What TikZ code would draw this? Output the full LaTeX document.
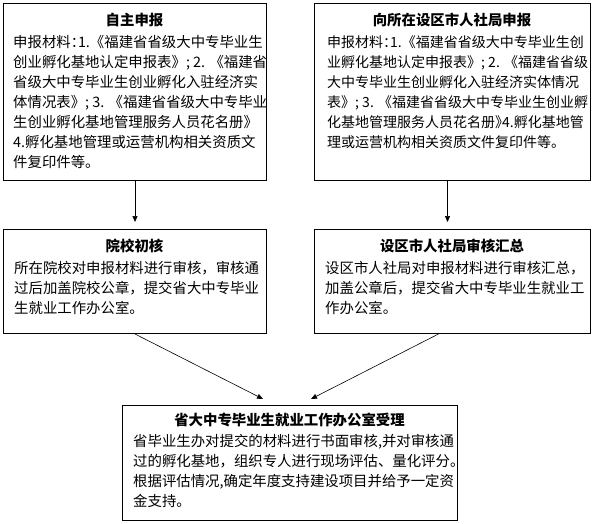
\documentclass[tikz,border=0pt]{standalone}
\usepackage{fontspec}
\setmainfont{Noto Sans CJK SC}
\newfontfamily\cjkh[RawFeature=+halt]{Noto Sans CJK SC}
\newcommand\hw[1]{{\cjkh #1}}
\usetikzlibrary{arrows.meta,calc}
\begin{document}
\begin{tikzpicture}[x=1pt,y=-1pt,
  box/.style={draw, line width=1pt, inner sep=0pt, anchor=north west},
  ttl/.style={font=\fontsize{14.4}{20}\selectfont\bfseries, inner sep=0pt, anchor=center},
  body/.style={font=\fontsize{14.4}{20}\selectfont, align=left, inner sep=0pt, anchor=north west},
  arr/.style={-{Triangle[length=6pt,width=5pt]}, line width=0.6pt}]
\useasboundingbox (0,0) rectangle (594,524);
% boxes
\node[box, minimum width=263pt, minimum height=177pt] (A) at (3,3) {};
\node[box, minimum width=276pt, minimum height=177pt] (B) at (314,3) {};
\node[box, minimum width=263pt, minimum height=104pt] (C) at (3,229) {};
\node[box, minimum width=276pt, minimum height=104pt] (D) at (314,229) {};
\node[box, minimum width=335pt, minimum height=115pt] (E) at (122,405) {};
% titles
\node[ttl] (At) at (134.5,20) {自主申报};
\node[ttl] (Bt) at (452,20) {向所在设区市人社局申报};
\node[ttl] (Ct) at (134.5,246) {院校初核};
\node[ttl] (Dt) at (452,246) {设区市人社局审核汇总};
\node[ttl] (Et) at (289.5,420) {省大中专毕业生就业工作办公室受理};
% bodies
\node[body] (Ab) at (13,33.3) {\rule{0pt}{14pt}申报材料\hw{：}1.《福建省省级大中专毕业生\\
创业孵化基地认定申报表》; 2. 《福建省\\
省级大中专毕业生创业孵化入驻经济实\\
体情况表》; 3. 《福建省省级大中专毕业\\
生创业孵化基地管理服务人员花名册》\\
4.孵化基地管理或运营机构相关资质文\\
件复印件等。};
\node[body, font=\fontsize{14}{20}\selectfont] (Bb) at (327,33.3) {\rule{0pt}{14pt}申报材料\hw{：}1.《福建省省级大中专毕业生创\\
业孵化基地认定申报表》; 2. 《福建省省级\\
大中专毕业生创业孵化入驻经济实体情况\\
表》; 3. 《福建省省级大中专毕业生创业孵\\
化基地管理服务人员花名册\hw{》}4.孵化基地管\\
理或运营机构相关资质文件复印件等。};
\node[body] (Cb) at (14,259.3) {\rule{0pt}{14pt}所在院校对申报材料进行审核，审核通\\
过后加盖院校公章，提交省大中专毕业\\
生就业工作办公室。};
\node[body] (Db) at (325,259.3) {\rule{0pt}{14pt}设区市人社局对申报材料进行审核汇总，\\
加盖公章后，提交省大中专毕业生就业工\\
作办公室。};
\node[body] (Eb) at (133,432.3) {\rule{0pt}{14pt}省毕业生办对提交的材料进行书面审核,并对审核通\\
过的孵化基地，组织专人进行现场评估、量化评分。\\
根据评估情况,确定年度支持建设项目并给予一定资\\
金支持。};
% connectors
\draw[arr, shorten >=7pt] (A.south) -- (C.north);
\draw[arr, shorten >=7pt] ($(B.south)+(-5,0)$) -- ($(D.north)+(-5,0)$);
\draw[arr] (C.south) -- ($(E.north)+(-27,-6)$);
\draw[arr] ($(D.south)+(-14,0)$) -- ($(E.north)+(21,-6)$);
\end{tikzpicture}
\end{document}
